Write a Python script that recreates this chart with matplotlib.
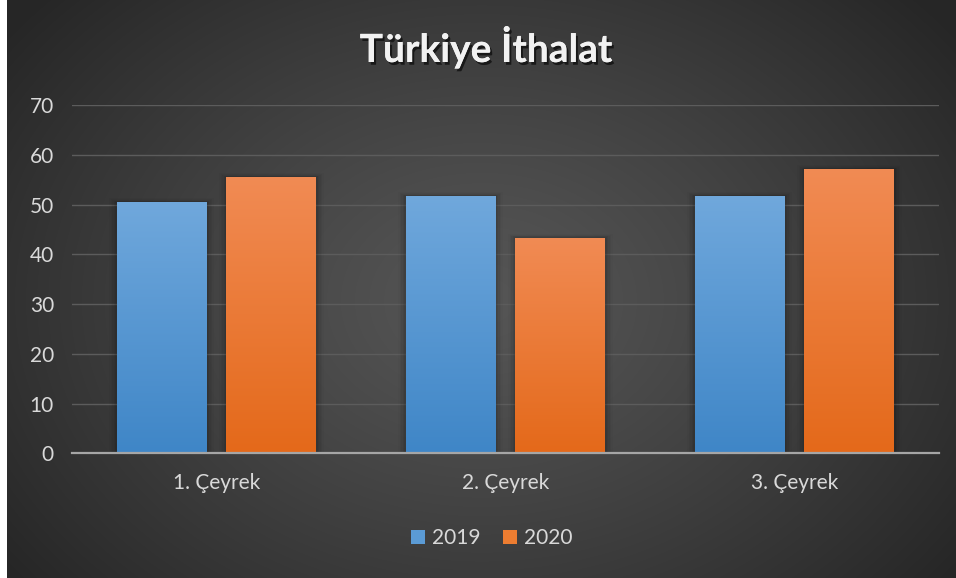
import numpy as np
import matplotlib
matplotlib.use("Agg")
import matplotlib.pyplot as plt
import matplotlib.patheffects as pe
from matplotlib.patches import Rectangle, Patch

categories = ["1. Çeyrek", "2. Çeyrek", "3. Çeyrek"]
series_names = ["2019", "2020"]
values_2019 = [50.5, 51.7, 51.7]
values_2020 = [55.5, 43.3, 57.1]
yticks = [0, 10, 20, 30, 40, 50, 60, 70]
title = "Türkiye İthalat"

FONT = "Lato"
W, H = 956, 578
fig = plt.figure(figsize=(W / 100, H / 100), dpi=100)
fig.patch.set_facecolor("white")

# radial gradient background
bg = fig.add_axes([7 / W, 0, 1 - 7 / W, 1], zorder=-10)
bg.set_axis_off()
yy, xx = np.mgrid[0:H, 0:W - 7]
cx, cy = (W - 7) * 0.5, H * 0.52
r = np.sqrt(((xx - cx) / (W * 0.62)) ** 2 + ((yy - cy) / (H * 0.78)) ** 2)
r = np.clip(r, 0, 1)
inner, outer = 0.335, 0.15
lum = inner + (outer - inner) * r ** 1.2
img = np.dstack([lum, lum, lum])
bg.imshow(img, aspect="auto", extent=[0, 1, 0, 1], origin="upper")
bg.set_xlim(0, 1)
bg.set_ylim(0, 1)

ax = fig.add_axes([72 / W, (H - 453.3) / H, (939 - 72) / W, (453.3 - 105) / H])
ax.set_facecolor("none")
ax.set_xlim(-0.5, len(categories) - 0.5)
ax.set_ylim(0, 70)
ax.set_yticks(yticks)
ax.yaxis.grid(True, color="#5c5c5c", linewidth=1.0)
ax.set_axisbelow(True)
for s in ["top", "right", "left"]:
    ax.spines[s].set_visible(False)
ax.spines["bottom"].set_color("#a6a6a6")
ax.spines["bottom"].set_linewidth(1.6)
ax.spines["bottom"].set_zorder(5)
ax.tick_params(axis="both", length=0, colors="#d9d9d9", labelsize=15)
ax.tick_params(axis="y", pad=13)
ax.tick_params(axis="x", pad=14)
x = np.arange(len(categories))
ax.set_xticks(x)
ax.set_xticklabels(categories)
for lab in ax.get_xticklabels() + ax.get_yticklabels():
    lab.set_fontfamily(FONT)
    lab.set_color("#d9d9d9")

bw = 0.311
off = 0.19


def grad_bars(positions, vals, top, bot, label):
    bars = ax.bar(positions, vals, width=bw, color="none", edgecolor="none",
                  label=label, zorder=3)
    for b in bars:
        x0, y0 = b.get_x(), b.get_y()
        w, h = b.get_width(), b.get_height()
        # soft shadow
        for k, a in enumerate([0.06, 0.05, 0.04, 0.03, 0.02]):
            dx = 0.005 * (k + 1)
            sh = Rectangle((x0 - dx, y0), w + 2 * dx, h + 0.15 * (k + 1),
                           facecolor="black", alpha=a, edgecolor="none", zorder=2)
            ax.add_patch(sh)
        t = np.linspace(0, 1, 256)[:, None]
        c = np.array(top)[None, :] * (1 - t) + np.array(bot)[None, :] * t
        grad = np.repeat(c[:, None, :], 2, axis=1)
        im = ax.imshow(grad, extent=[x0, x0 + w, y0, y0 + h], origin="upper",
                       aspect="auto", zorder=3)
        im.set_clip_path(b)
    return bars


def hx(s):
    s = s.lstrip("#")
    return [int(s[i:i + 2], 16) / 255 for i in (0, 2, 4)]


grad_bars(x - off, values_2019, hx("#70a8dc"), hx("#3f86c7"), series_names[0])
grad_bars(x + off, values_2020, hx("#f18b54"), hx("#e4691a"), series_names[1])
ax.set_xlim(-0.5, len(categories) - 0.5)
ax.set_ylim(0, 70)

# legend
handles = [Patch(facecolor="#5b9bd5", edgecolor="none"),
           Patch(facecolor="#ed7d31", edgecolor="none")]
leg = fig.legend(handles, series_names, loc="center", bbox_to_anchor=(492 / W, (H - 538) / H),
                 ncol=2, frameon=False, handlelength=0.65, handleheight=0.65,
                 handletextpad=0.35, columnspacing=1.1,
                 prop={"family": FONT, "size": 15})
for t in leg.get_texts():
    t.set_color("#d9d9d9")

fig.text(486 / W, (H - 47) / H, title, ha="center", va="center", fontsize=28,
         fontweight="bold", color="#f2f2f2", family=FONT,
         path_effects=[pe.withSimplePatchShadow(offset=(1.5, -2), shadow_rgbFace="black", alpha=0.6),
                       pe.Normal()])

fig.savefig("out.png", dpi=100)
